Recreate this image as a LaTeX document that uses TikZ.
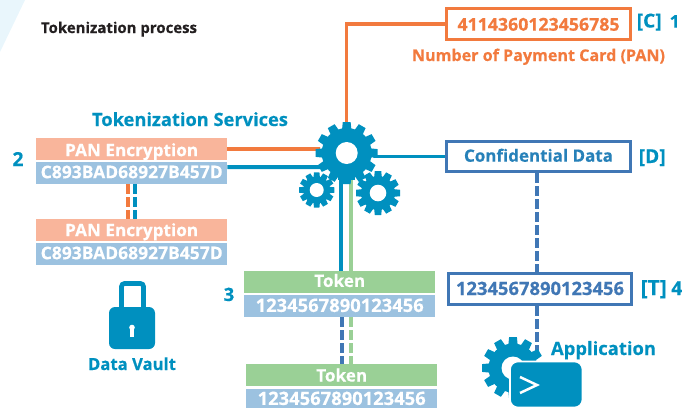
\documentclass[tikz,border=0pt]{standalone}
\usepackage{fontspec}
\usepackage{graphicx}
\setmainfont{Open Sans}[BoldFeatures={FakeBold=0.4}]
\definecolor{cblue}{HTML}{0090BF}
\definecolor{corange}{HTML}{F27A3E}
\definecolor{lorange}{HTML}{F9B59B}
\definecolor{lblue}{HTML}{9CC2E0}
\definecolor{lgreen}{HTML}{9AD096}
\definecolor{dblue}{HTML}{4077B5}
\definecolor{pale}{HTML}{E9F6FC}
\definecolor{ink}{HTML}{231F20}
\newcommand{\bt}[3]{\raisebox{-#1pt}[0pt][0pt]{\resizebox{#2pt}{!}{#3}}}
\newcommand{\gearat}[6]{%
  \begin{scope}[shift={(#1)}]
    \fill[cblue] (0,0) circle (#3);
    \foreach \a in {1,...,#5}{
      \fill[cblue,rotate=\a*360/#5] (#3-1,-#6) -- (#2,-#6*0.85) -- (#2,#6*0.85) -- (#3-1,#6) -- cycle;
    }
    \fill[white] (0,0) circle (#4);
  \end{scope}}
\tikzset{
  x=1pt,y=-1pt,
  band/.style={minimum width=191pt,inner sep=0pt,text=white,font=\bfseries\fontsize{16}{16}\selectfont},
  panband/.style={band,fill=lorange,minimum height=22pt},
  cipherband/.style={band,fill=lblue,minimum height=22pt},
  tokband/.style={band,fill=lgreen,minimum height=22pt},
  outbox/.style={draw,line width=3pt,fill=white,inner sep=0pt,font=\bfseries\fontsize{16}{16}\selectfont},
  lab/.style={text=cblue,inner sep=0pt,font=\bfseries\fontsize{18}{18}\selectfont},
  wire/.style={line width=3.4pt},
  wireb/.style={line width=4pt},
  dashwire/.style={line width=4pt,dash pattern=on 10pt off 3pt},
}
\begin{document}
\begin{tikzpicture}
\useasboundingbox (0,0) rectangle (696,408);
\fill[pale] (0,0) -- (25,0) -- (0,52) -- cycle;

\node[inner sep=0pt,text=ink,font=\bfseries\fontsize{14}{14}\selectfont] (title) at (119,27) {\bt{6}{156}{Tokenization process}};

\coordinate (biggear) at (346.7,153);
\coordinate (smallgear) at (316.7,190);
\coordinate (midgear) at (378,193);

% boxes
\node[outbox,draw=corange,text=corange,minimum width=184pt,minimum height=31.5pt] (pan) at (538.5,23.8) {\bt{6.9}{162}{4114360123456785}};
\node[inner sep=0pt,text=corange,font=\bfseries\fontsize{16}{16}\selectfont] (panlab) at (538.5,55) {\bt{6}{253}{Number of Payment Card (PAN)}};
\node[lab,anchor=west] (c) at (636.5,21) {\bt{6.5}{25}{[C]}};
\node[lab,anchor=west] (one) at (669.5,21) {\bt{6.7}{10}{1}};
\node[outbox,draw=dblue,text=dblue!60!cblue,minimum width=184pt,minimum height=30.5pt] (conf) at (538.5,156.5) {\bt{5.2}{149}{Confidential Data}};
\node[lab,anchor=west] (d) at (638.5,156) {\bt{7}{27}{[D]}};
\node[outbox,draw=dblue,text=dblue,minimum width=183pt,minimum height=31pt] (num) at (540,289) {\bt{6}{168}{1234567890123456}};
\node[lab,anchor=west] (t) at (640.5,289) {\bt{6}{26}{[T]}};
\node[lab,anchor=west] (four) at (671,289) {\bt{6}{11}{4}};

\node[lab,font=\bfseries\fontsize{18}{18}\selectfont] (services) at (190,119) {\bt{7}{196}{Tokenization Services}};
\node[panband,anchor=north west] (e1) at (36,138) {\bt{7}{133}{PAN Encryption}};
\node[cipherband,anchor=north west] (c1) at (36,162) {\bt{5}{182}{C893BAD68927B457D}};
\node[panband,anchor=north west] (e2) at (36,219) {\bt{6}{133}{PAN Encryption}};
\node[cipherband,anchor=north west] (c2) at (36,243) {\bt{5}{182}{C893BAD68927B457D}};
\node[lab] (two) at (18,159) {\bt{7}{11}{2}};
\node[lab] (three) at (229,293) {\bt{8}{10.5}{3}};

\node[tokband,anchor=north west] (t1) at (244,271) {\bt{4.7}{51}{Token}};
\node[cipherband,anchor=north west] (n1) at (244,295) {\bt{5.7}{168}{1234567890123456}};
\node[tokband,anchor=north west] (t2) at (246,364) {\bt{6.3}{51}{Token}};
\node[cipherband,anchor=north west,minimum height=18.5pt] (n2) at (246,389) {\bt{6.5}{168}{1234567890123456}};

% connectors
\draw[wire,corange] (pan.west) -| (biggear);
\draw[wire,cblue] (conf.west) -- (conf.west -| biggear);
\draw[wireb,corange] (e1.east) -- (biggear |- e1.east);
\draw[wireb,cblue] (c1.east) ++(0,-6) -- (biggear |- 0,167);
\draw[wireb,cblue] ([xshift=-5.7pt]biggear) -- ([xshift=-5.7pt]biggear |- t1.north);
\draw[wireb,lgreen] ([xshift=4.3pt]biggear) -- ([xshift=4.3pt]biggear |- t1.north);
\draw[dashwire,corange] ([xshift=-3.5pt]c1.south) -- ([xshift=-3.5pt]e2.north);
\draw[dashwire,cblue] ([xshift=3.5pt]c1.south) -- ([xshift=3.5pt]e2.north);
\draw[dashwire,dblue] (342,317) -- (342,364);
\draw[dashwire,lgreen] (351,317) -- (351,364);
\draw[dashwire,dblue] (conf.south -| 537,0) -- (num.north -| 537,0);
\draw[dashwire,dblue] (num.south -| 537,0) -- (537,354);

% gears
\gearat{smallgear}{17.6}{13.5}{7}{12}{3.2}
\gearat{midgear}{22}{17}{8.3}{12}{3.8}
\fill[white] (biggear) circle (27);
\draw[wireb,cblue] ([xshift=-5.7pt]biggear) -- ++(0,40);
\draw[wireb,lgreen] ([xshift=4.3pt]biggear) -- ++(0,40);
\gearat{biggear}{31}{25}{11}{12}{4.6}
\fill[cblue] ([xshift=-9pt,yshift=-20pt]biggear) rectangle ([xshift=8pt,yshift=-27pt]biggear);

% lock
\draw[cblue,line width=4.7pt,rounded corners=3pt] (121.5,310) -- (121.5,283.5) -- (143.5,283.5) -- (143.5,310);
\fill[cblue,rounded corners=6pt] (109,307) rectangle (155,349);
\fill[white] (132,327.5) circle (2.8);
\fill[white] (130.3,328) rectangle (133.7,336.5);
\node[inner sep=0pt,text=cblue,font=\bfseries\fontsize{16}{16}\selectfont] (vault) at (132,364) {\bt{6}{88}{Data Vault}};

% application
\gearat{513,368}{31}{24.5}{11.5}{12}{4.6}
\fill[cblue,draw=white,line width=1.6pt,rounded corners=8pt] (510,361.5) rectangle (582.5,407.5);
\draw[white,line width=2.5pt] (520,377) -- (537,385) -- (520,393);
\node[lab] (app) at (603.5,347) {\bt{8}{105}{Application}};
\end{tikzpicture}
\end{document}
